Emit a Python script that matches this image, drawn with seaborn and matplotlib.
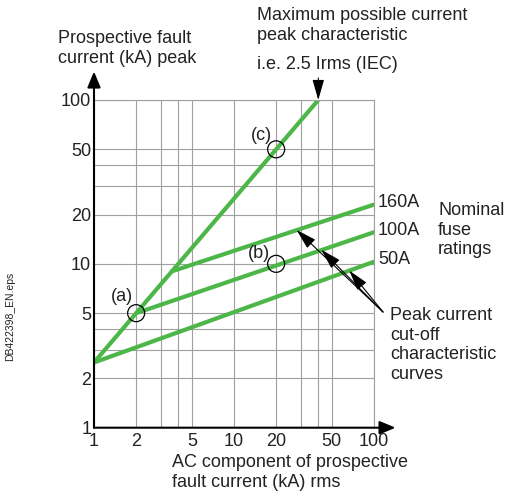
import pandas as pd
import matplotlib.pyplot as plt
import seaborn as sns

sns.set_theme(style="white")
plt.rcParams["font.family"] = ["Liberation Sans", "DejaVu Sans"]

# %%
# curves: x = AC component (kA rms), y = peak current (kA)
max_x = [1, 40]
max_y = [2.5, 100]

fuse_names = ["50A", "100A", "160A"]
fuse_x = [[1, 100], [2, 100], [3.6, 100]]
fuse_y = [[2.5, 10.3], [5, 15.6], [9, 23]]

# marked points on the chart
point_names = ["(a)", "(b)", "(c)"]
point_x = [2, 20, 20]
point_y = [5, 10, 50]

tick_vals = [1, 2, 5, 10, 20, 50, 100]
minor_vals = [3, 4, 30, 40]

# %%
rows = [("max", x, y) for x, y in zip(max_x, max_y)]
for name, xs, ys in zip(fuse_names, fuse_x, fuse_y):
    rows += [(name, x, y) for x, y in zip(xs, ys)]
df = pd.DataFrame(rows, columns=["curve", "x", "y"])

green = "#4cb648"
palette = {c: green for c in df["curve"].unique()}

W, H = 507, 500
fig = plt.figure(figsize=(W / 100, H / 100), dpi=100)
ax = fig.add_axes([94 / W, 1 - 427.7 / H, 280 / W, 327.7 / H])

sns.lineplot(data=df, x="x", y="y", hue="curve", palette=palette,
             estimator=None, sort=False, linewidth=3, legend=False, ax=ax)

ax.set_xscale("log")
ax.set_yscale("log")
ax.set_xlim(1, 100)
ax.set_ylim(1, 100)
ax.set_xticks(tick_vals, labels=[str(t) for t in tick_vals])
ax.set_yticks(tick_vals, labels=[str(t) for t in tick_vals])
ax.set_xticks(minor_vals, minor=True, labels=[""] * len(minor_vals))
ax.set_yticks(minor_vals, minor=True, labels=[""] * len(minor_vals))
ax.tick_params(which="both", length=0, labelsize=13, colors="#222222")
ax.tick_params(axis="x", pad=4)
ax.tick_params(axis="y", pad=2)
ax.grid(True, which="both", color="#a0a0a0", linewidth=0.8)
ax.set_xlabel("")
ax.set_ylabel("")

for s in ["top", "right"]:
    ax.spines[s].set_color("#a0a0a0")
    ax.spines[s].set_linewidth(0.8)
for s in ["left", "bottom"]:
    ax.spines[s].set_visible(False)

# axis arrows
arr = dict(arrowstyle="-|>,head_length=0.6,head_width=0.25", color="black",
           lw=1.5, mutation_scale=16, shrinkA=0, shrinkB=0)
ax.annotate("", xy=(0, 1.087), xytext=(0, 0), xycoords="axes fraction",
            arrowprops=arr, annotation_clip=False)
ax.annotate("", xy=(1.077, 0), xytext=(0, 0), xycoords="axes fraction",
            arrowprops=arr, annotation_clip=False)

# marked points
sns.scatterplot(x=point_x, y=point_y, s=150, facecolors="none",
                edgecolor="black", linewidth=0.9, zorder=5, ax=ax)
offsets = [(-14, 17), (-17, 10), (-15, 14)]
for name, x, y, off in zip(point_names, point_x, point_y, offsets):
    ax.annotate(name, (x, y), xytext=off, textcoords="offset pixels",
                ha="center", va="center", fontsize=13, color="#222222")

# fuse rating labels
for name, ys in zip(fuse_names, fuse_y):
    ax.annotate(name, (100, ys[-1]), xytext=(4, 2), textcoords="offset pixels",
                ha="left", va="center", fontsize=13, color="#222222",
                annotation_clip=False)

# arrows to the cut-off curves
thin = dict(arrowstyle="-|>,head_length=0.7,head_width=0.2", color="black",
            lw=0.8, mutation_scale=18, shrinkA=0, shrinkB=0)
for xy in [(28, 16.1), (42, 12.2), (66.5, 9.1)]:
    ax.annotate("", xy=xy, xytext=(383, H - 312), textcoords="figure pixels",
                arrowprops=thin, annotation_clip=False)

# arrow to the max current line end
ax.annotate("", xy=(max_x[-1], max_y[-1]), xytext=(0, 22),
            textcoords="offset pixels", arrowprops=thin, annotation_clip=False)

# texts
txt = dict(fontsize=13, color="#222222", ha="left", va="top", linespacing=1.2)
fig.text(58 / W, 1 - 30 / H, "Prospective fault\ncurrent (kA) peak", **txt)
fig.text(257 / W, 1 - 7 / H, "Maximum possible current\npeak characteristic", **txt)
fig.text(257 / W, 1 - 56 / H, "i.e. 2.5 Irms (IEC)", **txt)
fig.text(172 / W, 1 - 454 / H, "AC component of prospective\nfault current (kA) rms", **txt)
fig.text(438 / W, 1 - 202 / H, "Nominal\nfuse\nratings", **txt)
fig.text(390 / W, 1 - 307 / H, "Peak current\ncut-off\ncharacteristic\ncurves", **txt)
fig.text(10 / W, 1 - 316 / H, "DB422398_EN.eps", fontsize=7.5, color="#222222",
         rotation=90, ha="center", va="center")

fig.savefig("out.png", dpi=100)
